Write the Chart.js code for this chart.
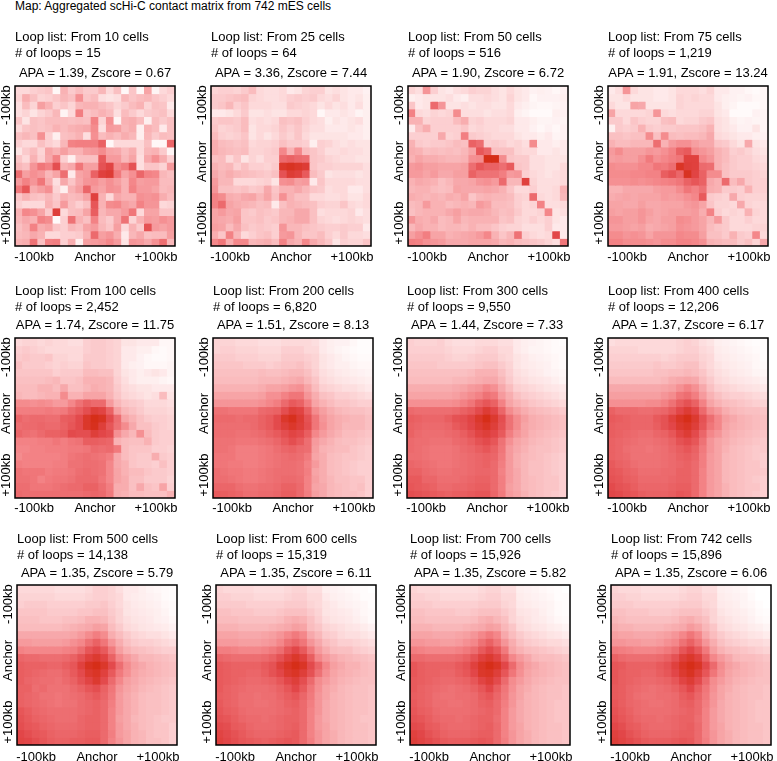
<!DOCTYPE html>
<html>
<head>
<meta charset="utf-8">
<title>APA grid</title>
<script src="https://cdn.jsdelivr.net/npm/chart.js@4/dist/chart.umd.min.js"></script>
<style>
  html, body { margin: 0; padding: 0; background: #fff; }
  body { position: relative; width: 777px; height: 761px; overflow: hidden; }
  #caption { position: absolute; left: 15px; top: -1px; font: 12px/14px "Liberation Sans", Arial, sans-serif; color: #000; white-space: nowrap; }
  canvas { position: absolute; }
</style>
</head>
<body>
<div id="caption">Map: Aggregated scHi-C contact matrix from 742 mES cells</div>
<script>
const cellCounts = ['10', '25', '50', '75', '100', '200', '300', '400', '500', '600', '700', '742'];
const loopCounts = ['15', '64', '516', '1,219', '2,452', '6,820', '9,550', '12,206', '14,138', '15,319', '15,926', '15,896'];
const apaScores = ['1.39', '3.36', '1.90', '1.91', '1.74', '1.51', '1.44', '1.37', '1.35', '1.35', '1.35', '1.35'];
const zScores = ['0.67', '7.44', '6.72', '13.24', '11.75', '8.13', '7.33', '6.17', '5.79', '6.11', '5.82', '6.06'];

const xLabels = ['', '', '-100kb', '', '', '', '', '', '', '', 'Anchor', '', '', '', '', '', '', '', '+100kb', '', ''];
const yLabels = ['-100kb', 'Anchor', '+100kb'];
const yTickValues = [2.5, 9.9, 18];

const m10 = [
  [14,14,18,20,22,3,30,20,26,20,20,28,14,24,3,22,3,36,4,14,18],
  [16,32,24,16,18,22,28,24,44,22,26,12,10,12,28,22,26,28,22,18,14],
  [12,26,16,38,30,18,22,16,28,30,30,26,22,16,20,26,30,16,24,22,8],
  [12,16,10,16,20,28,4,14,52,22,26,30,26,12,26,20,14,20,22,24,14],
  [22,10,24,22,26,26,26,24,26,24,50,16,44,4,30,32,26,6,26,20,24],
  [14,22,24,22,24,30,26,30,32,34,46,12,40,38,28,32,6,30,26,8,24],
  [24,28,24,44,18,6,24,26,30,12,44,26,30,26,32,28,6,28,20,26,24],
  [18,14,14,24,18,14,28,50,52,52,52,66,3,14,14,14,14,24,3,3,64],
  [10,20,26,16,36,30,38,30,30,38,40,46,36,34,26,32,14,28,30,20,4],
  [22,14,30,18,34,50,18,6,24,24,24,70,40,40,28,36,12,34,44,32,18],
  [28,24,42,56,50,76,30,34,56,38,38,74,82,46,52,74,12,22,22,16,40],
  [60,38,44,40,28,36,60,8,36,40,66,84,88,54,36,44,64,50,48,28,24],
  [40,50,42,56,32,12,34,22,34,42,44,38,44,38,30,48,38,40,40,26,26],
  [54,72,32,38,44,16,6,30,38,64,40,36,44,42,30,50,40,40,36,26,28],
  [22,30,24,22,28,20,30,26,28,36,84,30,14,34,30,30,44,42,44,32,26],
  [18,14,14,14,30,22,40,24,18,24,72,30,46,48,38,34,50,42,42,14,16],
  [30,48,44,36,20,86,14,24,26,36,68,28,34,34,40,56,14,36,36,22,22],
  [28,34,30,50,46,2,18,58,30,24,50,26,20,34,58,16,30,40,38,44,40],
  [24,30,50,32,36,22,18,28,24,36,40,28,22,38,14,30,20,74,40,36,40],
  [26,28,34,30,14,14,18,18,20,30,62,38,42,32,8,28,34,24,26,26,38],
  [30,32,58,24,50,52,18,32,6,38,40,42,48,40,10,42,40,34,44,60,28]
];
const m25 = [
  [16,18,18,16,20,26,14,12,12,14,8,10,16,18,18,10,12,10,8,8,5],
  [20,20,22,24,26,16,14,12,12,14,18,20,18,20,14,12,16,10,8,10,6],
  [20,22,28,18,22,14,14,14,12,12,20,18,16,14,10,14,10,12,8,12,6],
  [8,8,10,14,20,10,10,12,10,10,14,14,16,14,3,8,8,10,8,4,6],
  [20,22,22,20,26,12,14,12,14,24,22,24,18,14,12,6,10,8,10,12,6],
  [22,16,18,20,26,10,14,14,16,22,18,22,16,12,12,8,8,8,10,8,6],
  [26,18,16,18,22,10,14,10,14,20,16,22,14,10,10,10,10,10,8,8,6],
  [32,26,24,22,24,14,16,16,18,24,20,20,18,6,18,16,12,10,12,10,10],
  [32,28,26,24,26,16,16,18,20,48,30,48,26,22,18,12,12,14,12,12,10],
  [24,26,14,22,10,16,12,18,18,62,66,62,60,22,20,16,14,12,12,10,10],
  [30,26,28,18,24,18,18,16,20,92,96,92,88,22,18,18,16,16,16,16,12],
  [34,28,32,28,26,24,22,20,24,74,88,84,70,26,20,10,12,12,12,10,12],
  [40,28,28,14,14,14,16,18,10,44,46,38,40,8,22,14,14,14,14,12,12],
  [42,24,24,22,24,20,22,34,22,30,30,34,28,22,20,12,14,14,8,8,12],
  [50,46,32,30,34,36,28,36,24,44,30,24,24,14,14,12,12,14,10,10,14],
  [50,62,36,32,30,28,24,26,8,24,30,28,26,24,18,16,16,22,14,12,14],
  [36,40,34,36,22,20,24,22,20,28,28,34,34,24,12,14,14,14,16,8,12],
  [36,34,32,38,22,22,24,20,22,28,30,34,34,24,16,14,12,14,16,14,12],
  [38,36,26,34,24,20,22,20,18,42,28,28,24,22,20,18,18,20,18,18,8],
  [32,22,50,28,14,18,22,24,18,40,42,28,22,22,26,18,14,20,14,14,12],
  [48,56,32,48,48,28,30,32,26,50,34,30,48,34,28,22,10,18,16,16,22]
];
const m50 = [
  [16,12,42,18,10,8,12,14,18,16,16,12,10,14,10,8,5,6,5,3,5],
  [6,8,10,10,10,12,8,6,12,12,14,12,10,16,10,8,3,5,5,5,6],
  [22,8,10,62,42,10,10,12,10,12,12,10,10,14,8,6,4,3,3,4,5],
  [50,14,12,16,14,16,46,12,12,12,10,12,12,14,6,4,2,2,2,6,5],
  [30,30,16,18,18,18,26,32,16,18,14,14,14,16,8,8,6,4,4,5,4],
  [8,24,32,18,18,18,18,22,14,16,14,14,12,12,8,8,5,3,5,3,5],
  [18,18,18,18,34,16,18,52,20,18,16,14,14,14,10,8,8,6,8,4,5],
  [30,20,18,20,20,22,26,24,66,60,18,20,18,14,16,12,46,8,8,6,8],
  [32,30,24,26,24,26,24,28,36,72,64,24,24,24,16,14,14,8,8,10,8],
  [30,36,32,32,30,28,28,30,44,46,100,100,46,22,20,20,12,12,10,10,10],
  [40,42,38,38,36,36,36,38,60,72,66,66,60,70,22,20,12,12,10,10,14],
  [40,40,36,40,34,34,38,38,66,58,58,58,52,40,42,18,14,12,10,12,14],
  [30,34,32,30,24,28,34,34,36,42,44,40,62,28,28,84,16,12,12,12,14],
  [28,30,30,26,24,26,36,34,34,34,36,34,30,22,14,14,18,12,12,14,30],
  [32,30,28,30,28,32,30,36,22,28,30,28,28,26,18,16,62,14,12,14,28],
  [26,28,40,30,30,26,28,30,28,40,36,26,26,24,18,14,16,50,12,12,14],
  [24,28,30,30,30,34,38,32,34,34,32,28,24,26,20,14,14,16,48,10,12],
  [42,32,30,34,26,28,36,28,30,30,30,30,22,24,16,14,18,14,18,10,8],
  [28,34,30,30,26,28,28,26,30,26,26,22,18,16,16,12,12,12,18,8,8],
  [38,44,52,36,36,30,32,34,36,40,48,30,22,28,58,18,14,12,14,80,8],
  [52,50,44,42,40,34,34,34,36,36,36,34,28,30,26,24,22,20,16,12,56]
];
const m75 = [
  [8,12,42,14,10,10,8,8,10,14,14,14,12,16,8,8,5,5,3,2,3],
  [10,10,14,10,10,10,8,8,10,16,14,16,14,14,8,6,5,4,5,3,3],
  [14,10,10,36,34,10,10,10,10,16,14,14,14,14,10,6,4,2,2,2,3],
  [36,14,14,14,14,16,42,14,12,14,14,14,16,16,10,8,2,2,2,5,4],
  [20,20,14,22,18,16,16,24,26,14,16,16,20,22,12,10,6,4,5,4,4],
  [6,20,18,20,30,20,18,20,20,22,22,22,24,30,12,10,8,5,5,10,4],
  [24,24,22,24,24,46,24,46,26,24,26,26,28,34,14,12,10,8,8,6,5],
  [30,26,26,28,28,28,60,30,40,44,44,38,34,34,22,20,14,10,34,10,8],
  [40,46,38,38,38,42,40,44,50,66,70,46,42,38,30,26,18,20,16,12,10],
  [38,40,38,38,44,54,44,48,52,56,84,84,48,42,30,26,20,18,18,14,12],
  [46,44,44,44,48,48,56,54,60,94,86,84,62,60,30,24,20,18,18,16,14],
  [46,46,46,48,48,50,50,68,74,64,96,82,66,46,46,24,20,20,20,18,16],
  [44,44,44,46,44,46,48,50,52,56,66,72,66,34,30,62,26,34,20,18,18],
  [30,30,34,34,34,34,38,40,40,46,56,50,58,32,30,20,20,18,30,18,18],
  [32,34,36,34,36,36,36,40,38,40,44,48,70,20,18,16,34,18,16,16,16],
  [36,36,34,34,38,34,34,36,36,36,40,42,36,22,16,16,14,34,16,14,14],
  [38,36,38,38,42,38,34,36,38,38,38,40,32,50,18,14,16,14,30,16,14],
  [42,42,38,38,42,36,34,38,38,46,44,40,36,28,40,20,14,14,18,14,14],
  [40,40,38,36,38,32,34,36,38,44,42,40,36,26,22,20,14,14,14,16,16],
  [46,46,42,44,42,36,42,42,42,48,46,46,38,24,24,20,30,20,18,48,14],
  [50,50,46,46,46,44,42,46,46,50,50,48,44,30,28,26,26,20,24,16,34]
];
const m100 = [
  [14,16,16,14,16,14,14,12,12,18,20,20,18,16,10,10,8,8,8,3,3],
  [18,20,18,16,14,14,14,14,14,18,20,20,18,16,8,8,6,6,3,2,3],
  [20,22,20,20,22,16,16,14,14,20,20,20,18,16,8,8,5,3,2,2,3],
  [24,20,20,20,18,16,18,16,16,22,20,20,18,16,8,6,5,3,3,3,4],
  [22,22,22,22,22,18,20,20,20,26,26,24,24,16,10,8,6,8,10,8,4],
  [24,24,24,24,26,28,22,22,24,30,30,30,28,18,12,8,6,6,6,4,3],
  [26,26,26,30,30,26,34,24,24,28,32,30,28,20,14,12,10,10,8,8,8],
  [28,26,26,28,30,30,46,30,30,36,36,36,30,22,16,14,12,10,12,26,10],
  [46,46,44,46,44,40,40,48,58,66,62,62,40,28,22,20,18,14,14,14,12],
  [52,52,52,52,54,52,54,62,68,76,86,82,66,38,28,24,20,16,16,16,14],
  [64,60,62,62,60,60,68,70,78,92,100,96,78,60,36,30,24,20,18,18,16],
  [60,62,62,64,62,62,66,72,78,92,98,86,72,58,46,34,24,24,20,18,16],
  [64,60,58,62,66,66,68,78,76,76,86,80,76,44,34,28,44,26,20,18,18],
  [50,50,50,52,52,56,52,56,58,68,68,66,64,30,26,24,24,30,20,18,18],
  [48,48,50,50,52,52,52,54,54,56,62,60,62,54,26,22,22,22,18,18,16],
  [46,50,50,50,50,50,52,56,58,60,58,56,52,34,26,22,20,20,32,20,18],
  [52,50,50,50,50,52,52,58,58,60,60,58,48,34,30,22,20,20,18,24,18],
  [58,56,56,56,52,54,54,56,60,62,60,58,48,36,30,26,26,22,20,20,18],
  [58,58,56,50,54,56,56,58,62,62,62,56,48,36,32,24,24,20,20,20,16],
  [60,60,56,56,56,58,60,62,62,66,66,60,52,32,32,24,34,24,22,36,18],
  [62,60,60,60,60,60,60,60,60,62,64,62,54,32,30,26,26,24,24,24,30]
];
const m200 = [
  [16,16,16,14,14,14,12,12,12,14,14,14,14,12,8,6,5,5,3,1,1],
  [16,18,18,16,16,16,14,14,14,18,18,18,14,14,8,6,4,3,2,1,1],
  [20,20,20,18,18,18,16,16,16,20,20,20,18,16,10,8,6,4,3,2,2],
  [22,22,22,22,20,20,20,18,20,22,22,24,20,16,10,8,6,6,4,3,3],
  [24,24,24,24,24,24,26,24,24,26,28,28,24,18,12,10,8,7,6,5,4],
  [26,26,26,26,26,26,28,28,28,30,32,34,28,22,14,12,10,9,8,7,6],
  [30,30,30,30,30,30,32,36,36,38,42,44,36,26,18,16,14,12,12,10,8],
  [36,36,36,36,36,36,38,44,44,50,56,56,42,32,24,22,18,18,16,14,12],
  [42,42,42,42,42,42,44,48,52,62,70,66,52,36,30,26,22,22,20,18,18],
  [58,58,56,56,56,56,62,64,66,76,86,82,66,46,38,32,28,26,24,24,22],
  [62,62,62,60,62,62,66,70,78,92,98,88,74,56,42,36,32,30,28,28,24],
  [60,60,60,60,60,62,66,70,78,86,92,86,76,56,44,36,32,28,28,28,24],
  [60,60,60,58,58,60,62,66,70,76,82,78,68,48,40,34,30,26,26,24,22],
  [58,58,58,56,56,56,58,60,64,70,76,70,60,40,34,30,26,24,24,22,20],
  [58,58,56,52,52,52,54,56,60,64,66,62,60,38,30,28,26,26,22,20,18],
  [56,56,56,52,52,52,54,56,58,60,62,60,54,36,32,26,24,22,22,20,18],
  [56,56,54,54,52,52,54,56,58,60,60,58,50,40,32,26,24,22,20,18,18],
  [60,58,56,56,54,54,56,58,60,60,60,58,52,36,32,26,24,22,20,18,18],
  [60,60,58,56,54,54,56,58,60,62,62,60,50,38,32,28,24,24,22,22,18],
  [64,64,64,60,58,58,60,60,62,66,66,62,50,36,34,28,26,24,22,24,18],
  [70,68,66,64,60,60,62,62,64,68,68,62,52,38,34,28,26,24,24,22,18]
];
const m300 = [
  [18,16,16,16,18,14,12,12,12,14,14,14,12,12,8,6,5,4,3,2,1],
  [18,18,18,18,18,16,14,14,14,16,18,18,14,14,8,6,4,4,3,2,2],
  [20,20,20,20,20,18,16,16,18,20,20,20,16,14,10,8,6,5,4,3,2],
  [22,22,22,22,20,20,20,20,20,22,24,24,20,16,10,8,7,6,5,3,2],
  [24,24,24,24,24,24,24,24,26,30,30,30,24,18,12,10,8,7,5,4,3],
  [26,26,26,26,26,26,28,28,30,32,34,34,28,20,14,12,10,9,8,6,4],
  [32,32,32,32,32,32,34,36,40,42,48,44,34,26,18,16,14,12,10,9,8],
  [36,36,36,36,36,36,38,42,46,50,58,54,40,32,24,20,18,16,14,12,10],
  [44,44,44,44,44,44,46,50,56,66,72,66,50,36,30,26,22,20,18,16,14],
  [62,60,60,60,60,60,62,66,70,78,88,80,64,46,38,32,28,26,24,22,20],
  [68,66,64,64,64,68,74,76,82,92,100,90,76,58,46,38,32,30,28,26,24],
  [66,64,62,62,62,64,70,74,80,88,94,86,74,58,46,36,32,30,28,26,24],
  [66,62,60,60,60,62,64,68,74,82,86,80,70,52,42,36,30,28,26,24,22],
  [62,60,60,58,58,58,62,64,68,74,78,72,58,44,36,32,28,26,24,22,20],
  [62,60,58,56,56,56,58,62,64,68,72,66,56,40,34,30,26,24,24,22,20],
  [60,60,58,56,56,56,58,60,62,64,66,64,54,40,32,28,26,24,22,20,18],
  [64,62,60,58,56,56,58,60,62,64,66,62,52,40,32,28,24,24,22,20,18],
  [66,66,62,60,58,58,60,60,62,64,64,62,50,40,34,28,24,24,22,20,18],
  [70,70,64,64,60,60,60,62,64,66,66,62,52,40,34,28,26,24,22,22,18],
  [72,70,68,66,62,62,64,64,66,68,68,62,52,38,34,28,26,24,22,22,18],
  [76,74,72,70,68,66,68,68,70,72,72,64,54,40,36,30,26,24,22,20,18]
];
const m400 = [
  [12,14,14,14,14,14,14,14,14,16,18,16,12,10,6,5,4,3,2,1,1],
  [16,16,16,16,14,14,14,14,14,16,18,18,14,12,7,6,5,4,3,2,1],
  [18,18,18,18,18,18,18,16,18,20,20,20,16,14,8,7,6,5,4,3,1],
  [20,20,20,20,20,20,22,20,20,22,24,24,18,14,10,8,7,6,5,3,2],
  [22,22,22,22,22,22,24,24,26,26,28,26,22,16,12,10,8,7,6,4,3],
  [26,26,26,26,26,26,26,28,32,34,36,34,26,20,14,12,10,9,8,7,5],
  [34,34,34,34,34,34,34,36,38,44,50,44,34,24,18,16,14,12,11,10,8],
  [38,38,38,38,38,38,38,42,46,56,60,52,40,30,24,20,18,18,16,14,12],
  [44,44,44,44,44,46,46,50,58,68,74,66,50,36,30,26,24,22,20,18,16],
  [66,62,62,62,60,60,62,64,70,80,88,80,62,46,40,32,28,26,24,24,22],
  [70,68,66,64,64,64,70,74,84,94,100,90,74,60,48,38,34,30,28,26,24],
  [68,66,66,64,64,64,68,74,80,90,94,86,72,56,48,36,32,30,28,26,24],
  [68,66,64,62,60,60,64,66,72,82,88,78,64,48,42,34,30,28,26,24,22],
  [66,64,62,60,58,58,60,62,66,74,78,72,58,42,36,32,28,26,24,22,20],
  [66,64,60,58,58,56,58,60,64,68,72,66,54,42,36,30,26,24,22,20,20],
  [66,64,62,58,58,58,58,60,62,66,68,64,52,40,36,28,26,24,22,20,18],
  [70,66,64,60,58,58,58,60,62,64,66,62,52,40,36,28,26,24,22,22,18],
  [72,70,66,64,60,60,60,62,62,66,66,62,50,40,36,28,26,24,22,22,20],
  [74,72,68,66,62,62,62,62,64,66,66,62,50,40,36,28,26,24,22,20,18],
  [78,74,72,68,64,64,64,64,66,68,68,62,50,40,36,30,26,24,22,22,18],
  [80,78,74,72,68,66,66,66,68,72,70,62,50,40,36,30,26,24,22,20,18]
];
const m500 = [
  [14,14,14,14,14,12,12,12,12,14,18,18,16,12,8,8,6,4,3,2,1],
  [16,16,16,16,16,14,14,14,14,16,18,18,16,14,8,7,6,5,4,2,1],
  [18,20,20,20,18,18,18,18,18,20,20,22,18,14,10,8,7,6,5,3,2],
  [22,22,22,22,20,20,20,20,22,22,24,24,20,16,10,9,8,7,6,4,2],
  [24,24,24,22,22,22,24,24,26,30,30,28,22,16,12,10,9,8,6,5,3],
  [26,26,26,26,26,26,28,30,32,34,38,36,26,20,14,12,10,9,8,7,5],
  [34,34,34,34,34,34,34,36,40,46,52,46,32,26,20,16,14,12,12,10,8],
  [40,40,38,38,38,38,40,44,48,58,66,56,42,32,24,20,18,18,16,14,12],
  [50,48,48,48,48,48,50,52,60,72,78,70,54,38,30,26,24,22,20,18,18],
  [64,62,62,60,60,60,62,66,74,84,90,82,66,48,40,34,28,28,26,24,22],
  [68,66,66,66,64,64,68,72,84,96,100,92,78,60,46,38,34,30,28,26,24],
  [68,66,64,62,60,60,64,70,78,90,94,84,70,54,44,36,32,30,28,26,24],
  [68,64,62,60,60,58,62,66,74,82,90,78,62,48,38,34,30,28,26,24,22],
  [66,66,60,62,58,58,58,62,66,72,76,66,56,42,36,32,28,26,24,22,20],
  [66,64,62,58,58,56,58,60,62,66,70,64,54,40,34,30,26,24,24,22,20],
  [66,64,62,60,58,56,58,58,62,64,66,62,52,40,34,30,26,24,24,22,20],
  [72,68,64,62,60,60,60,60,62,64,66,62,50,40,34,30,26,24,24,22,20],
  [74,70,66,64,62,60,60,60,64,66,66,62,50,38,34,28,26,24,22,20,20],
  [76,72,70,66,64,62,62,62,64,66,66,62,50,40,34,30,26,24,22,22,18],
  [80,76,72,70,66,64,64,64,66,68,68,62,52,40,36,30,28,24,22,22,18],
  [82,80,76,72,68,66,66,68,68,70,70,62,50,42,36,30,28,24,24,22,18]
];
const m600 = [
  [16,14,14,14,14,12,12,12,12,14,16,16,12,12,6,5,4,3,2,1,0],
  [18,18,16,16,16,14,14,14,14,16,18,18,14,14,8,6,5,4,3,1,1],
  [20,20,20,20,18,18,18,18,18,20,20,20,16,14,10,8,6,5,4,3,1],
  [24,24,22,22,22,20,20,20,22,24,24,24,20,16,10,9,8,7,5,3,2],
  [26,26,26,24,24,24,24,24,26,30,32,30,24,18,12,10,9,8,6,4,2],
  [30,30,30,28,28,28,28,30,32,34,38,36,26,22,16,14,12,10,9,7,5],
  [36,36,36,34,34,34,36,38,42,48,54,48,34,28,20,18,14,12,12,10,8],
  [40,40,40,38,38,38,40,42,48,58,64,56,42,34,26,22,18,18,16,14,12],
  [52,52,50,48,48,48,50,54,60,72,80,70,54,40,32,26,24,24,20,18,16],
  [64,62,60,60,60,60,62,66,74,84,92,84,68,48,40,34,30,28,26,24,22],
  [70,68,66,66,66,66,70,74,86,94,100,94,78,64,48,38,34,30,30,26,24],
  [70,68,66,66,64,64,68,74,80,90,94,86,74,58,44,36,32,30,28,26,24],
  [70,68,66,64,62,62,64,66,72,80,86,76,62,46,40,34,30,28,26,24,24],
  [70,66,64,62,60,60,60,62,66,72,80,70,56,44,36,32,28,26,24,24,22],
  [68,66,64,60,60,58,60,60,64,68,72,64,54,42,36,30,28,26,24,24,22],
  [70,66,64,60,60,58,58,60,62,66,68,62,52,42,34,30,28,26,24,24,22],
  [72,68,66,62,60,60,60,60,62,64,66,62,50,42,34,30,28,26,24,24,22],
  [74,72,68,64,62,62,60,62,64,66,66,62,50,40,34,30,28,26,24,22,22],
  [78,76,70,68,64,62,62,62,64,66,68,62,50,40,36,30,28,26,24,24,22],
  [82,78,74,70,66,64,64,64,66,68,70,62,50,42,36,32,28,26,24,24,22],
  [84,80,76,72,70,68,66,68,70,72,70,62,52,42,36,32,28,26,24,24,22]
];
const m700 = [
  [16,14,14,14,12,12,12,12,12,14,16,16,12,12,6,5,4,3,2,1,0],
  [18,18,16,16,14,14,14,14,14,16,18,18,14,14,7,6,5,4,3,1,1],
  [20,20,20,18,18,18,18,18,18,20,20,20,16,14,8,7,6,5,4,2,1],
  [24,24,22,22,22,22,20,20,22,24,24,24,20,16,10,9,8,6,4,2,1],
  [26,26,24,24,24,24,24,24,26,30,32,28,24,16,12,10,8,7,5,3,2],
  [30,30,30,28,28,28,28,30,32,34,38,36,28,22,14,12,10,9,7,6,4],
  [36,36,36,34,34,34,36,38,42,48,54,48,34,26,20,16,14,12,10,9,7],
  [42,42,40,40,38,38,40,44,48,58,66,56,42,32,24,20,18,16,14,14,12],
  [52,50,48,48,48,48,50,54,60,70,78,70,54,36,30,26,24,22,20,18,16],
  [62,62,60,60,60,60,62,66,74,84,90,82,66,48,40,34,28,26,26,24,22],
  [72,68,66,66,66,66,70,74,84,94,100,94,80,62,46,38,34,30,28,26,24],
  [72,68,66,66,64,64,68,72,80,92,94,86,72,56,44,36,32,30,28,26,24],
  [70,68,66,64,62,62,64,66,72,82,88,78,62,46,40,34,30,28,26,24,24],
  [70,66,64,62,60,58,60,62,66,72,80,68,56,44,36,32,28,26,24,24,22],
  [68,66,64,60,58,58,60,60,62,68,72,64,54,42,36,30,28,26,24,24,22],
  [70,66,64,60,60,58,58,60,62,66,68,62,52,42,34,30,28,26,24,22,22],
  [72,68,66,62,60,60,60,60,62,64,66,62,50,40,34,30,28,26,24,22,22],
  [74,72,68,64,62,62,60,62,64,66,66,60,50,40,34,30,28,26,24,22,22],
  [78,76,70,68,64,62,62,62,64,66,68,62,50,40,36,30,28,26,24,24,22],
  [84,80,74,70,66,64,64,64,66,68,68,62,50,42,36,32,28,26,24,24,22],
  [86,82,78,74,70,68,68,68,70,72,70,62,52,42,36,32,28,26,24,24,22]
];
const m742 = [
  [16,14,14,14,12,12,12,12,12,14,16,16,12,12,6,5,4,3,1,0,0],
  [18,18,16,16,14,14,14,14,14,16,18,18,14,14,7,6,5,4,2,0,0],
  [20,20,20,18,18,18,18,18,18,20,20,20,16,14,8,7,6,4,3,1,0],
  [24,24,22,22,22,20,20,20,22,24,24,24,20,16,10,8,7,6,4,2,1],
  [28,26,24,24,24,24,24,24,26,30,32,28,24,16,12,10,8,7,5,3,2],
  [32,30,30,28,28,28,28,30,32,34,40,36,28,22,14,12,10,9,7,6,4],
  [38,36,36,34,34,34,36,38,42,48,56,48,34,26,20,16,14,12,10,9,7],
  [42,42,40,40,38,38,40,44,48,58,66,56,42,32,24,20,18,16,14,14,12],
  [54,52,50,48,48,48,50,54,60,72,80,70,54,38,30,26,24,22,20,18,16],
  [66,62,60,60,60,60,62,66,74,86,92,84,66,48,40,34,28,26,26,24,22],
  [72,70,66,66,66,66,70,74,84,94,100,94,78,62,46,38,34,30,28,26,24],
  [72,68,66,66,64,64,68,72,80,90,96,86,72,56,44,36,32,30,28,26,24],
  [72,68,66,64,62,62,64,66,72,82,88,78,62,46,40,34,30,28,26,24,24],
  [70,68,64,62,60,58,60,62,66,72,80,68,56,44,36,32,28,26,24,24,22],
  [70,68,64,60,58,58,60,60,62,68,72,64,54,42,36,30,28,26,24,24,22],
  [72,68,64,62,60,58,58,60,62,66,68,62,52,42,34,30,28,26,24,22,22],
  [74,70,66,62,60,60,60,60,62,64,66,62,50,40,34,30,28,26,24,22,22],
  [76,72,68,64,62,62,60,62,64,66,66,60,50,40,34,30,28,26,24,22,22],
  [80,76,70,68,64,62,62,62,64,66,68,62,50,40,36,30,28,26,24,24,22],
  [84,80,74,70,66,64,64,64,66,68,68,62,50,42,36,32,28,26,24,24,22],
  [86,82,78,74,70,68,68,68,70,72,70,62,52,42,36,32,28,26,24,24,22]
];

const matrices = [m10, m25, m50, m75, m100, m200, m300, m400, m500, m600, m700, m742];

// top-left corner of each heatmap box, by hand from the reference
const boxLeft = [15, 211, 408, 608, 15, 213, 407, 608, 17, 216, 410, 611];
const boxTop = [86, 86, 86, 86, 338, 338, 338, 338, 585, 585, 585, 585];
// the three rows of the figure sit a little differently under their titles
const titlePad = [{ top: 3, bottom: 4, sub: 5 }, { top: 5, bottom: 2, sub: 5 }, { top: 6, bottom: 2, sub: 4 }];
const xTickPad = [4, 3, 5];

const FONT = '"Liberation Sans", Arial, sans-serif';

// white -> pink -> red, same idea as the juicebox colour ramp
const colorStops = [
  [0, 255, 255, 255],
  [12, 253, 222, 223],
  [25, 250, 190, 192],
  [50, 243, 130, 133],
  [80, 226, 70, 72],
  [100, 214, 46, 24]
];

function cellColor(v) {
  for (let i = 1; i < colorStops.length; i++) {
    const a = colorStops[i - 1];
    const b = colorStops[i];
    if (v <= b[0]) {
      const t = (v - a[0]) / (b[0] - a[0]);
      const c = [1, 2, 3].map(k => Math.round(a[k] + (b[k] - a[k]) * t));
      return `rgb(${c[0]},${c[1]},${c[2]})`;
    }
  }
  return 'rgb(214,46,24)';
}

const frame = {
  id: 'frame',
  afterDraw(chart) {
    const { ctx, chartArea: a } = chart;
    ctx.save();
    ctx.strokeStyle = '#000';
    ctx.lineWidth = 1.5;
    ctx.strokeRect(a.left, a.top, a.right - a.left, a.bottom - a.top);
    ctx.restore();
  }
};

function drawPanel(i) {
  const figRow = Math.floor(i / 4);
  const pad = titlePad[figRow];
  const canvas = document.createElement('canvas');
  canvas.width = 178;
  canvas.height = 240;
  canvas.style.left = `${boxLeft[i] - 14}px`;
  canvas.style.top = `${boxTop[i] - 60}px`;
  document.body.appendChild(canvas);

  const datasets = matrices[i].map(row => ({
    data: row.map(() => 1),
    backgroundColor: row.map(cellColor),
    borderWidth: 0,
    inflateAmount: 0.5,
    barPercentage: 1,
    categoryPercentage: 1
  }));

  new Chart(canvas, {
    type: 'bar',
    data: { labels: xLabels, datasets },
    options: {
      responsive: false,
      animation: false,
      layout: { padding: { left: 0, right: 4, top: 0, bottom: 0 } },
      plugins: {
        legend: { display: false },
        tooltip: { enabled: false },
        title: {
          display: true,
          align: 'start',
          fullSize: false,
          color: '#000',
          font: { family: FONT, size: 13, weight: 'normal', lineHeight: '16px' },
          padding: { top: pad.top, bottom: pad.bottom },
          text: [`Loop list: From ${cellCounts[i]} cells`, `# of loops = ${loopCounts[i]}`]
        },
        subtitle: {
          display: true,
          align: 'center',
          fullSize: false,
          color: '#000',
          font: { family: FONT, size: 13, weight: 'normal', lineHeight: '16px' },
          padding: { top: 0, bottom: pad.sub },
          text: `APA = ${apaScores[i]}, Zscore = ${zScores[i]}`
        }
      },
      scales: {
        x: {
          stacked: true,
          grid: { display: false, drawTicks: false },
          border: { display: false },
          afterFit: s => { s.height = 20; },
          ticks: {
            autoSkip: false,
            maxRotation: 0,
            minRotation: 0,
            padding: xTickPad[figRow],
            color: '#000',
            font: { family: FONT, size: 13 }
          }
        },
        y: {
          stacked: true,
          reverse: true,
          min: 0,
          max: 21,
          grid: { display: false, drawTicks: false },
          border: { display: false },
          afterBuildTicks: s => { s.ticks = yTickValues.map(value => ({ value })); },
          afterFit: s => { s.width = 14; },
          ticks: {
            autoSkip: false,
            minRotation: 90,
            maxRotation: 90,
            crossAlign: 'center',
            padding: -13,
            color: '#000',
            font: { family: FONT, size: 13 },
            callback: v => yLabels[yTickValues.indexOf(v)]
          }
        }
      }
    },
    plugins: [frame]
  });
}

matrices.forEach((m, i) => drawPanel(i));
</script>
</body>
</html>
